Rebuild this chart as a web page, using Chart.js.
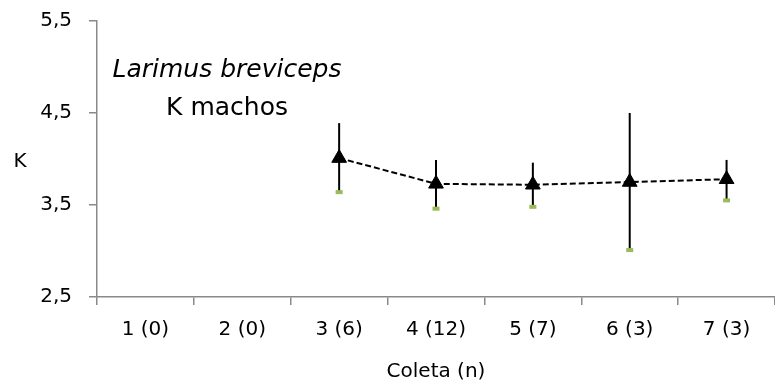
<!DOCTYPE html>
<html>
<head>
<meta charset="utf-8">
<script src="https://cdn.jsdelivr.net/npm/chart.js@4/dist/chart.umd.min.js"></script>
<style>
  html, body { margin: 0; padding: 0; background: #fff; }
  #wrap { position: relative; width: 775px; height: 388px; }
</style>
</head>
<body>
<div id="wrap"><canvas id="kChart"></canvas></div>
<script>
// Coleta (n) categories
var coletas = ['1 (0)', '2 (0)', '3 (6)', '4 (12)', '5 (7)', '6 (3)', '7 (3)'];

// K mean per coleta, with error bar ends (no fish in 1 and 2)
var kMedia = [null, null, 4.01, 3.73, 3.72, 3.75, 3.78];
var kSuperior = [null, null, 4.39, 3.99, 3.96, 4.50, 3.99];
var kInferior = [null, null, 3.64, 3.46, 3.48, 3.01, 3.55];

// y axis ticks
var yTicks = [2.5, 3.5, 4.5, 5.5];

var fonte = '"DejaVu Sans", sans-serif';
var cinza = '#898989';

// Error bars: black line from upper to lower end, small green mark at the bottom
var errorBars = {
    id: 'errorBars',
    beforeDatasetsDraw: function(chart) {
        var ctx = chart.ctx;
        var xs = chart.scales.x, ys = chart.scales.y;
        ctx.save();
        kMedia.forEach(function(v, i) {
            if (v === null) return;
            var x = xs.getPixelForValue(i);
            var yTop = ys.getPixelForValue(kSuperior[i]);
            var yBot = ys.getPixelForValue(kInferior[i]);
            ctx.strokeStyle = '#000';
            ctx.lineWidth = 2;
            ctx.beginPath();
            ctx.moveTo(x, yTop);
            ctx.lineTo(x, yBot);
            ctx.stroke();
            ctx.fillStyle = '#9bbb59';
            ctx.fillRect(x - 3.5, yBot - 2, 7, 4);
        });
        ctx.restore();
    }
};

// Text inside the plot and the unrotated K axis label
var textos = {
    id: 'textos',
    afterDraw: function(chart) {
        var ctx = chart.ctx;
        ctx.save();
        ctx.fillStyle = '#000';
        ctx.textAlign = 'center';
        ctx.textBaseline = 'alphabetic';
        ctx.font = 'italic 25px ' + fonte;
        ctx.fillText('Larimus breviceps', 227, 77);
        ctx.font = '25px ' + fonte;
        ctx.fillText('K machos', 227, 115);
        ctx.font = '20px ' + fonte;
        ctx.textBaseline = 'middle';
        ctx.fillText('K', 20, 162);
        ctx.restore();
    }
};

var kChart = new Chart(document.getElementById('kChart'), {
    type: 'line',
    data: {
        labels: coletas,
        datasets: [{
            label: 'K machos',
            data: kMedia,
            borderColor: '#000',
            borderWidth: 2,
            borderDash: [6, 3],
            tension: 0,
            pointStyle: 'triangle',
            pointRadius: 8.5,
            pointBackgroundColor: '#000',
            pointBorderColor: '#000',
            pointBorderWidth: 1
        }]
    },
    options: {
        responsive: true,
        maintainAspectRatio: false,
        animation: false,
        layout: { autoPadding: false, padding: { top: 21, right: 0, bottom: 0, left: 0 } },
        plugins: {
            legend: { display: false },
            tooltip: { enabled: false }
        },
        scales: {
            x: {
                type: 'category',
                offset: true,
                grid: {
                    offset: true,
                    drawOnChartArea: false,
                    drawTicks: true,
                    tickLength: 8,
                    color: cinza,
                    lineWidth: 1.5
                },
                border: { color: cinza, width: 1.5 },
                ticks: {
                    color: '#000',
                    font: { family: fonte, size: 20 },
                    padding: 13,
                    maxRotation: 0,
                    autoSkip: false
                },
                title: {
                    display: true,
                    text: 'Coleta (n)',
                    color: '#000',
                    font: { family: fonte, size: 20 },
                    padding: { top: 0, bottom: 4 }
                },
                afterFit: function(scale) {
                    scale.height = 91;
                    scale.paddingLeft = 0;
                    scale.paddingRight = 0;
                }
            },
            y: {
                min: 2.5,
                max: 5.5,
                grid: {
                    drawOnChartArea: false,
                    drawTicks: true,
                    tickLength: 8,
                    color: cinza,
                    lineWidth: 1.5
                },
                border: { color: cinza, width: 1.5 },
                afterBuildTicks: function(scale) {
                    scale.ticks = yTicks.map(function(v) { return { value: v }; });
                },
                ticks: {
                    color: '#000',
                    font: { family: fonte, size: 20 },
                    padding: 17,
                    callback: function(v) { return v.toFixed(1).replace('.', ','); }
                },
                afterFit: function(scale) {
                    scale.width = 97;
                    scale.paddingTop = 0;
                    scale.paddingBottom = 0;
                }
            }
        }
    },
    plugins: [errorBars, textos]
});
</script>
</body>
</html>
